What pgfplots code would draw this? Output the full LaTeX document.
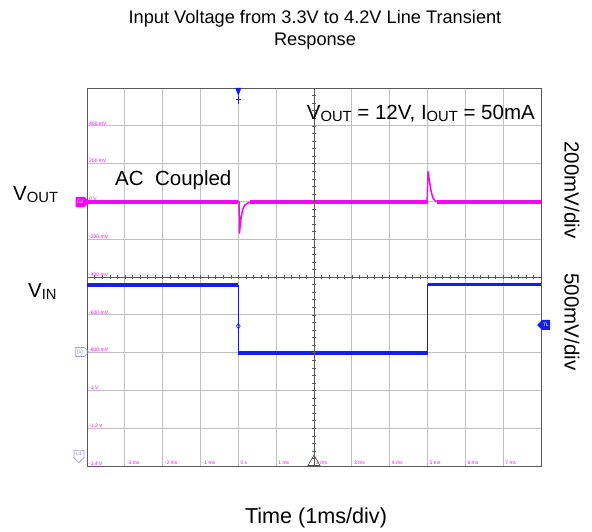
\documentclass[border=0pt]{standalone}
\usepackage{pgfplots}
\pgfplotsset{compat=1.18}
\usepackage{graphicx}
\usepackage{fontspec}
\setmainfont{Liberation Sans}
\usetikzlibrary{shapes.symbols}
\definecolor{scopemag}{RGB}{255,0,255}
\definecolor{scopeblue}{RGB}{20,30,235}
\newcommand{\sub}[1]{\raisebox{-0.08em}{\scalebox{0.72}{#1}}}
\newcommand{\bigtxt}{\fontsize{20.5bp}{24bp}\selectfont}
\newcommand{\tinytxt}{\fontsize{5bp}{6bp}\selectfont}
\begin{document}
\begin{tikzpicture}[x=1bp,y=1bp]
\path[use as bounding box] (-87,-66) rectangle (505,466);
\begin{axis}[
  at={(0,0)}, anchor=south west,
  scale only axis, width=454bp, height=378bp,
  xmin=-4, xmax=8, ymin=-5, ymax=5,
  xtick={-4,...,8}, ytick={-5,...,5},
  xticklabels={}, yticklabels={},
  major tick length=0pt,
  grid=major, grid style={gray!50, line width=0.8pt},
  axis line style={gray!70!black, line width=0.8pt},
  clip=false,
]
% V_OUT (divisions; 200 mV/div, 0 V at +2 div)
\addplot[scopemag, line width=4pt] coordinates {(-4,1.98) (0,1.98)};
\addplot[scopemag, line width=1.5pt, line join=round] coordinates {
 (0,1.98) (0.01,2.0) (0.02,1.98) (0.03,1.16) (0.05,1.38) (0.08,1.62) (0.12,1.8) (0.18,1.91) (0.26,1.96) (0.35,1.98)};
\addplot[scopemag, line width=4pt] coordinates {(0.3,1.98) (5.0,1.98)};
\addplot[scopemag, line width=1.5pt, line join=round] coordinates {
 (4.99,1.98) (5.01,2.79) (5.04,2.62) (5.07,2.42) (5.1,2.25) (5.14,2.1) (5.2,2.02) (5.3,1.98)};
\addplot[scopemag, line width=4pt] coordinates {(5.25,1.98) (8,1.98)};
% V_IN (divisions; 500 mV/div)
\addplot[scopeblue, line width=3.3pt] coordinates {(-4,-0.21) (0,-0.21)};
\addplot[scopeblue, line width=0.8pt] coordinates {(0,-0.21) (0,-2.01)};
\addplot[scopeblue, line width=3.3pt] coordinates {(0,-2.01) (5.0,-2.01)};
\addplot[scopeblue, line width=0.8pt] coordinates {(5.0,-2.01) (5.0,-0.19)};
\addplot[scopeblue, line width=3.3pt] coordinates {(5.0,-0.19) (8,-0.19)};
\addplot[scopeblue, only marks, mark=diamond, mark size=2.6bp, mark options={line width=0.6pt}] coordinates {(0,-1.3)};
\end{axis}
% centre cross ticks
\foreach \i in {0,...,60}{\draw[gray!70!black, line width=0.4pt] (\i*7.5667,187) -- (\i*7.5667,191);}
\foreach \i in {0,...,50}{\draw[gray!70!black, line width=0.4pt] (225,\i*7.56) -- (229,\i*7.56);}
\draw[gray!70!black, line width=0.8pt] (0,189) -- (454,189);
\draw[gray!70!black, line width=0.8pt] (227,0) -- (227,378);
% scale labels (magenta)
\foreach \v/\t in {4/400 mV,3/200 mV,2/0 V,1/-200 mV,0/-400 mV,-1/-600 mV,-2/-800 mV,-3/-1 V,-4/-1.2 V,-5/-1.4 V}
  {\node[anchor=south west, inner sep=0.5bp, text=scopemag, font=\tinytxt] at (1.5,189+\v*37.8) {\t};}
\foreach \x/\t in {1/-3 ms,2/-2 ms,3/-1 ms,4/0 s,5/1 ms,6/2 ms,7/3 ms,8/4 ms,9/5 ms,10/6 ms,11/7 ms}
  {\node[anchor=south west, inner sep=0.5bp, text=scopemag, font=\tinytxt] at (\x*37.833+1.5,1) {\t};}
% tags
\node[signal, signal to=east, fill=scopemag, text=white, font=\tinytxt, inner sep=1bp, minimum height=10bp, minimum width=14bp] at (-7,264) {C2};
\node[signal, signal to=east, draw=scopeblue!45, line width=0.6pt, text=scopeblue!60, font=\tinytxt, inner sep=1bp, minimum height=9bp, minimum width=13bp] at (-7,114) {[1]};
\node[signal, signal to=south, draw=scopeblue!45, line width=0.6pt, text=scopeblue!60, font=\tinytxt, inner sep=1bp, minimum height=11bp, minimum width=10bp] at (-8,12) {L1};
\node[signal, signal to=west, fill=scopeblue, text=white, font=\tinytxt, inner sep=1bp, minimum height=10bp, minimum width=13bp] at (459,141) {TL};
\fill[scopeblue] (148.3,378) -- (154.3,378) -- (151.3,370) -- cycle;
\draw[scopeblue, line width=0.8pt] (151.3,370) -- (151.3,362);
\draw[scopeblue, line width=1pt] (148.8,366) -- (153.8,366);
\draw[gray!60!black, line width=0.6pt] (221,0.5) -- (233,0.5) -- (227,11) -- cycle;
% text
\node[anchor=base, font=\fontsize{18.2bp}{22bp}\selectfont] at (228,442) {Input Voltage from 3.3V to 4.2V Line Transient};
\node[anchor=base, font=\fontsize{18.2bp}{22bp}\selectfont] at (228,420) {Response};
\node[anchor=base, font=\fontsize{21.6bp}{25bp}\selectfont] at (229,-58) {Time (1ms/div)};
\node[anchor=base west, inner sep=0, font=\bigtxt] at (-74,265) {V\sub{OUT}};
\node[anchor=base west, inner sep=0, font=\bigtxt] at (-59,168) {V\sub{IN}};
\node[anchor=base west, inner sep=0, font=\bigtxt] at (28,280) {AC\ \ Coupled};
\node[anchor=base east, inner sep=0, font=\bigtxt] at (448,346) {V\sub{OUT} = 12V, I\sub{OUT} = 50mA};
\node[rotate=-90, font=\bigtxt] at (485,276) {200mV/div};
\node[rotate=-90, font=\bigtxt] at (485,144) {500mV/div};
\end{tikzpicture}
\end{document}
